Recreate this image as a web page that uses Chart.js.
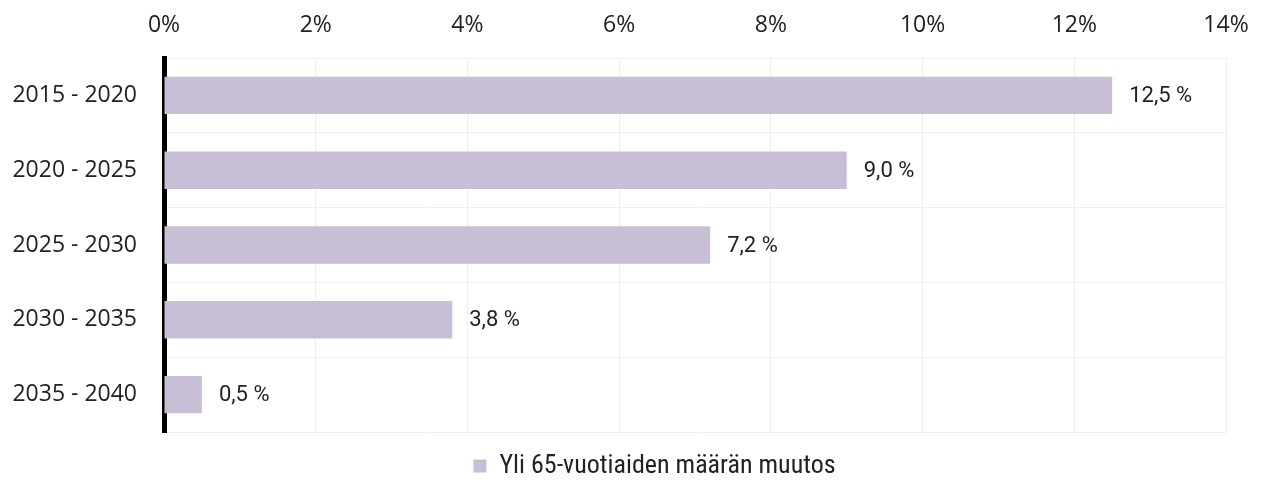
<!DOCTYPE html>
<html>
<head>
<meta charset="utf-8">
<script src="https://cdn.jsdelivr.net/npm/chart.js@4/dist/chart.umd.min.js"></script>
<style>
  html, body { margin: 0; padding: 0; background: #fff; }
  #wrap { width: 1261px; height: 493px; }
</style>
</head>
<body>
<div id="wrap"><canvas id="chartMuutos"></canvas></div>
<script>
// Yli 65-vuotiaiden määrän muutos viisivuotiskausittain
const kaudet = ['2015 - 2020', '2020 - 2025', '2025 - 2030', '2030 - 2035', '2035 - 2040'];
const muutos = [12.5, 9.0, 7.2, 3.8, 0.5];
const sarjanNimi = 'Yli 65-vuotiaiden määrän muutos';

// arvot palkkien perään, pilkku desimaalina
const arvoTekstit = {
  id: 'arvoTekstit',
  afterDatasetsDraw(chart) {
    const c = chart.ctx;
    const meta = chart.getDatasetMeta(0);
    c.save();
    c.font = '22px Roboto';
    c.fillStyle = '#222';
    c.textBaseline = 'middle';
    meta.data.forEach((bar, i) => {
      const txt = muutos[i].toFixed(1).replace('.', ',') + ' %';
      c.fillText(txt, bar.x + 17, bar.y + 1);
    });
    c.restore();
  }
};

// selite hieman oikealle, kuten alkuperäisessä
const seliteSiirto = {
  id: 'seliteSiirto',
  afterLayout(chart) {
    chart.legend.left += 24;
    chart.legend.right += 24;
  }
};

new Chart(document.getElementById('chartMuutos'), {
  type: 'bar',
  data: {
    labels: kaudet,
    datasets: [{
      label: sarjanNimi,
      data: muutos,
      backgroundColor: '#C8BFD6',
      borderWidth: 0,
      categoryPercentage: 1,
      barPercentage: 0.5
    }]
  },
  options: {
    indexAxis: 'y',
    responsive: true,
    maintainAspectRatio: false,
    animation: false,
    layout: { padding: { left: 12, right: 12, top: 0, bottom: 4 } },
    scales: {
      x: {
        position: 'top',
        min: 0,
        max: 14,
        afterFit: s => { s.height = 58; s.paddingRight = 35; },
        ticks: {
          stepSize: 2,
          color: '#222',
          font: { family: 'Open Sans', size: 23 },
          padding: 19,
          callback: v => v + '%'
        },
        grid: { color: '#eeeeee', drawTicks: false },
        border: { color: '#eeeeee' }
      },
      y: {
        afterFit: s => { s.width = 152; },
        ticks: {
          color: '#222',
          font: { family: 'Open Sans', size: 23 },
          padding: 27
        },
        grid: { color: '#eeeeee', drawTicks: false },
        border: { color: '#000', width: 5 }
      }
    },
    plugins: {
      legend: {
        position: 'bottom',
        labels: {
          color: '#222',
          font: { family: '"Roboto Condensed", "DejaVu Sans Condensed", Roboto', size: 26 },
          boxWidth: 13,
          boxHeight: 13,
          padding: 21
        }
      },
      tooltip: { enabled: false }
    }
  },
  plugins: [arvoTekstit, seliteSiirto]
});
</script>
</body>
</html>
